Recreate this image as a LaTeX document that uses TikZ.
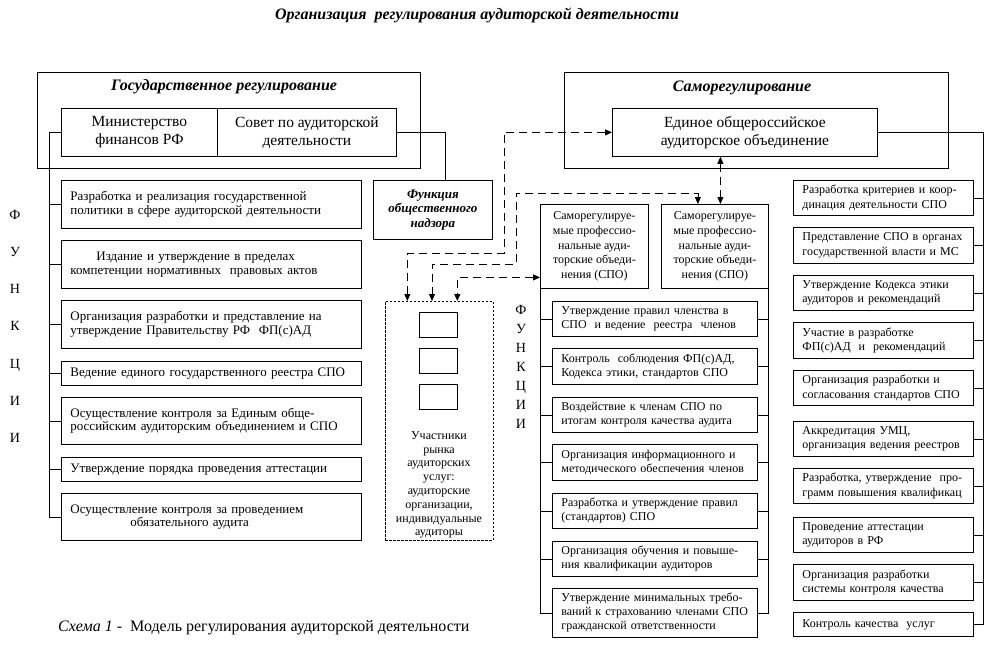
\documentclass[tikz,border=0pt]{standalone}
\usepackage{fontspec}
\setmainfont{Liberation Serif}
\usetikzlibrary{arrows.meta}
\begin{document}
\begin{tikzpicture}[x=1pt,y=-1pt,
  box/.style={draw, line width=0.8pt, rectangle, anchor=north west, inner xsep=9pt, inner ysep=0pt, align=left},
  lbox/.style={box, minimum width=300pt, text width=282pt, font=\fontsize{13}{13.5}\selectfont},
  mbox/.style={box, minimum width=205pt, text width=187pt, font=\fontsize{12}{14}\selectfont},
  rbox/.style={box, minimum width=180pt, text width=162pt, font=\fontsize{12}{14.2}\selectfont},
  cbox/.style={draw, line width=0.8pt, rectangle, anchor=north west, inner sep=0pt, align=center},
  ttl/.style={font=\fontsize{16}{18}\selectfont\bfseries\itshape},
  ln/.style={line width=0.8pt},
  dsh/.style={line width=0.8pt, dash pattern=on 8pt off 5pt, {Triangle[length=7pt,width=6pt]}-{Triangle[length=7pt,width=6pt]}},
  letters/.style={align=center, inner sep=0pt}
]
\useasboundingbox (0,0) rectangle (986,661);

% title
\node[ttl] (title) at (477,15) {Организация\ \ регулирования аудиторской деятельности};

% ---- state regulation ----
\node[cbox, minimum width=383pt, minimum height=96pt] (gos) at (37,72) {};
\node[ttl] (gost) at (224,87) {Государственное регулирование};
\node[cbox, minimum width=156pt, minimum height=48pt, font=\fontsize{15.5}{18}\selectfont] (minf) at (61,108) {Министерство\\финансов РФ};
\node[cbox, minimum width=179pt, minimum height=48pt, font=\fontsize{15.5}{18}\selectfont] (sov) at (217,108) {Совет по аудиторской\\деятельности};

\node[lbox, minimum height=48pt] (L1) at (61,180) {Разработка и реализация государственной\\политики в сфере аудиторской деятельности};
\node[lbox, minimum height=48pt] (L2) at (61,240) {\hspace*{26pt}Издание и утверждение в пределах\\компетенции нормативных\ \ правовых актов};
\node[lbox, minimum height=48pt] (L3) at (61,300) {Организация разработки и представление на\\утверждение Правительству РФ\ \ ФП(с)АД};
\node[lbox, minimum height=24pt] (L4) at (61,361) {Ведение единого государственного реестра СПО};
\node[lbox, minimum height=47pt] (L5) at (61,397) {Осуществление контроля за Единым обще-\\российским аудиторским объединением и СПО};
\node[lbox, minimum height=24pt] (L6) at (61,457) {Утверждение порядка проведения аттестации};
\node[lbox, minimum height=47pt] (L7) at (61,493) {Осуществление контроля за проведением\\\hspace*{60pt}обязательного аудита};

\node[letters, font=\fontsize{14}{37.2}\selectfont, anchor=north] (lf) at (15,210) {Ф\\У\\Н\\К\\Ц\\И\\И};

\coordinate (lsp) at (49,0);
\draw[ln] (minf.west) -| (lsp |- L7.west) -- (L7.west);
\foreach \n in {L1,L2,L3,L4,L5,L6} \draw[ln] (\n.west) -- (\n.west -| lsp);

% public oversight
\node[cbox, minimum width=119pt, minimum height=59pt, font=\fontsize{13}{14.5}\selectfont\bfseries\itshape] (nadz) at (373,180) {Функция\\общественного\\надзора};
\draw[ln] (sov.east) -| ([xshift=12pt]nadz.north);

% participants
\node[cbox, minimum width=108pt, minimum height=239pt, line width=0.7pt, dash pattern=on 2.5pt off 1.5pt] (part) at (385,301) {};
\node[cbox, minimum width=38pt, minimum height=25pt] (sq1) at (419,312) {};
\node[cbox, minimum width=38pt, minimum height=25pt] (sq2) at (419,348) {};
\node[cbox, minimum width=38pt, minimum height=25pt] (sq3) at (419,384) {};
\node[align=center, inner sep=0pt, font=\fontsize{12}{13.8}\selectfont] (ptxt) at (439,485) {Участники\\рынка\\аудиторских\\услуг:\\аудиторские\\организации,\\индивидуальные\\аудиторы};

% ---- self regulation ----
\node[cbox, minimum width=384pt, minimum height=96pt] (self) at (564,72) {};
\node[ttl] (selft) at (742,88) {Саморегулирование};
\node[cbox, minimum width=265pt, minimum height=48pt, font=\fontsize{15.5}{18}\selectfont] (edin) at (612,108) {Единое общероссийское\\аудиторское объединение};

\node[cbox, minimum width=108pt, minimum height=84pt, font=\fontsize{12}{14.6}\selectfont] (spo1) at (540,204) {Саморегулируе-\\мые профессио-\\нальные ауди-\\торские объеди-\\нения (СПО)};
\node[cbox, minimum width=107pt, minimum height=84pt, font=\fontsize{12}{14.6}\selectfont] (spo2) at (661,204) {Саморегулируе-\\мые профессио-\\нальные ауди-\\торские объеди-\\нения (СПО)};

\node[mbox, minimum height=35pt] (M1) at (552,301) {Утверждение правил членства в\\СПО\ \ и ведение\ \ реестра\ \ членов};
\node[mbox, minimum height=36pt] (M2) at (552,348) {Контроль\ \ соблюдения ФП(с)АД,\\Кодекса этики, стандартов СПО};
\node[mbox, minimum height=35pt] (M3) at (552,397) {Воздействие к членам СПО по\\итогам контроля качества аудита};
\node[mbox, minimum height=36pt] (M4) at (552,444) {Организация информационного и\\методического обеспечения членов};
\node[mbox, minimum height=35pt] (M5) at (552,493) {Разработка и утверждение правил\\(стандартов) СПО};
\node[mbox, minimum height=35pt] (M6) at (552,541) {Организация обучения и повыше-\\ния квалификации аудиторов};
\node[mbox, minimum height=49pt] (M7) at (552,588) {Утверждение минимальных требо-\\ваний к страхованию членами СПО\\гражданской ответственности};

\node[letters, font=\fontsize{14}{19}\selectfont, anchor=north] (mf) at (521,305) {Ф\\У\\Н\\К\\Ц\\И\\И};

\draw[ln] (spo1.south west) |- (M7.west);
\draw[ln] (spo2.south east) |- (M7.east);
\foreach \n in {M1,M2,M3,M4,M5,M6} {
  \draw[ln] (\n.west) -- (\n.west -| spo1.west);
  \draw[ln] (\n.east) -- (\n.east -| spo2.east);
}

\node[rbox, minimum height=35pt] (R1) at (793,180) {Разработка критериев и коор-\\динация деятельности СПО};
\node[rbox, minimum height=36pt] (R2) at (793,227) {Представление СПО в органах\\государственной власти и МС};
\node[rbox, minimum height=35pt] (R3) at (793,275) {Утверждение Кодекса этики\\аудиторов и рекомендаций};
\node[rbox, minimum height=36pt] (R4) at (793,322) {Участие в разработке\\ФП(с)АД\ \ и\ \ рекомендаций};
\node[rbox, minimum height=35pt] (R5) at (793,370) {Организация разработки и\\согласования стандартов СПО};
\node[rbox, minimum height=35pt] (R6) at (793,421) {Аккредитация УМЦ,\\организация ведения реестров};
\node[rbox, minimum height=35pt] (R7) at (793,468) {Разработка, утверждение\ \ про-\\грамм повышения квалификац};
\node[rbox, minimum height=35pt] (R8) at (793,517) {Проведение аттестации\\аудиторов в РФ};
\node[rbox, minimum height=36pt] (R9) at (793,564) {Организация разработки\\системы контроля качества};
\node[rbox, minimum height=24pt] (R10) at (793,612) {Контроль качества\ \ услуг};

\coordinate (rsp) at (983,0);
\draw[ln] (edin.east) -| (rsp |- R10.east) -- (R10.east);
\foreach \n in {R1,R2,R3,R4,R5,R6,R7,R8,R9} \draw[ln] (\n.east) -- (\n.east -| rsp);

% dashed links
\draw[dsh] (edin.west) -| (504,253) -| ([xshift=-32pt]part.north);
\draw[dsh] ([xshift=-17pt]spo2.north) |- (516,193) |- (432,264) -- (432,301);
\draw[dsh] ([yshift=-31pt]spo1.west) -| ([xshift=18pt]part.north);
\draw[dsh] ([xshift=-24.5pt]edin.south) -- ([xshift=-24.5pt]edin.south |- spo2.north);

% caption
\node[anchor=west, inner sep=0pt, font=\fontsize{16}{18}\selectfont] (cap) at (58,628) {\textit{Схема 1} -\ \ Модель регулирования аудиторской деятельности};
\end{tikzpicture}
\end{document}
